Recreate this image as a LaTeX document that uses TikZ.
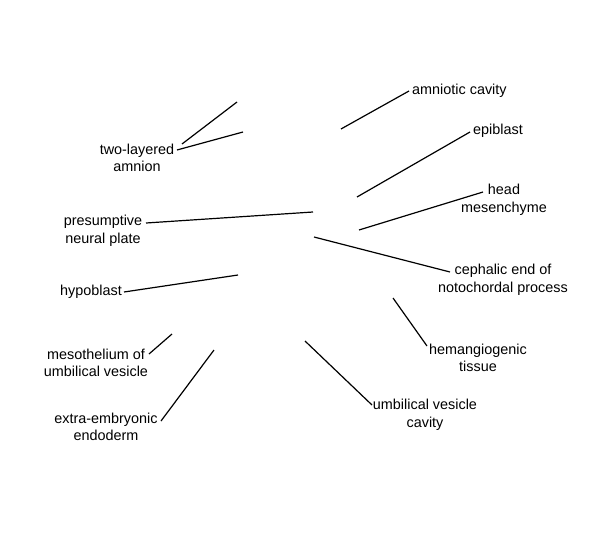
\documentclass[tikz,border=0pt]{standalone}
\usepackage{fontspec}
\setmainfont{Liberation Sans}
\usetikzlibrary{calc}
\begin{document}
\begin{tikzpicture}[x=1pt,y=-1pt,
  lbl/.style={font=\fontsize{14.4}{17.5}\selectfont, align=center, inner sep=1pt, text=black},
  lead/.style={draw=black, line width=1.2pt}]
\useasboundingbox (0,0) rectangle (600,554);
% labels
\node[lbl] (tla) at (137,158) {two-layered\\amnion};
\node[lbl] (pres) at (103,231) {presumptive\\neural plate};
\node[lbl, anchor=east] (hyp) at (123,292) {hypoblast};
\node[lbl] (meso) at (96,363) {mesothelium of\\umbilical vesicle};
\node[lbl] (ext) at (106,427) {extra-embryonic\\endoderm};
\node[lbl, anchor=west] (amn) at (411,91) {amniotic cavity};
\node[lbl, anchor=west] (epi) at (472,131) {epiblast};
\node[lbl] (head) at (504,200) {head\\mesenchyme};
\node[lbl] (ceph) at (503,280) {cephalic end of\\notochordal process};
\node[lbl] (hem) at (478,358) {hemangiogenic\\tissue};
\node[lbl] (umb) at (425,415) {umbilical vesicle\\cavity};
% free ends
\coordinate (tlaA) at (237,102);
\coordinate (tlaB) at (243,132);
\coordinate (presE) at (313,212);
\coordinate (hypE) at (238,275);
\coordinate (mesoE) at (172,334);
\coordinate (extE) at (214,350);
\coordinate (amnE) at (341,129);
\coordinate (epiE) at (357,197);
\coordinate (headE) at (359,230);
\coordinate (cephE) at (314,237);
\coordinate (hemE) at (393,298);
\coordinate (umbE) at (305,341);
% leaders
\draw[lead] ($(tla.center)+(45,-14)$) -- (tlaA);
\draw[lead] ($(tla.center)+(40,-8)$) -- (tlaB);
\draw[lead] ($(pres.center)+(43,-8)$) -- (presE);
\draw[lead] ($(hyp.east)+(1,0)$) -- (hypE);
\draw[lead] ($(meso.center)+(53,-9)$) -- (mesoE);
\draw[lead] ($(ext.center)+(55,-6)$) -- (extE);
\draw[lead] ($(amn.west)+(-2,0)$) -- (amnE);
\draw[lead] ($(epi.west)+(-2,1)$) -- (epiE);
\draw[lead] ($(head.center)+(-21,-8)$) -- (headE);
\draw[lead] ($(ceph.center)+(-53,-8)$) -- (cephE);
\draw[lead] ($(hem.center)+(-51,-12)$) -- (hemE);
\draw[lead] ($(umb.center)+(-53,-10)$) -- (umbE);
\end{tikzpicture}
\end{document}
